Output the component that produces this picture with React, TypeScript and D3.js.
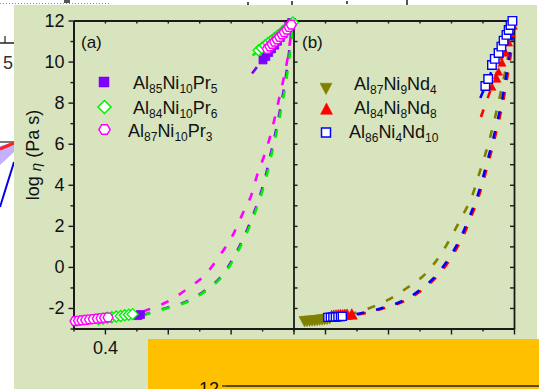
import React, { useEffect, useRef } from "react";
import * as d3 from "d3";

const W = 539;
const H = 389;
const FONT = "'Liberation Sans', Arial, Helvetica, sans-serif";

// Axis ticks
const yMajor = [-2, 0, 2, 4, 6, 8, 10, 12];
const yMinor = [-3, -1, 1, 3, 5, 7, 9, 11];
const yAll = [-3, -2, -1, 0, 1, 2, 3, 4, 5, 6, 7, 8, 9, 10, 11, 12];
const xMajor = [0.4, 0.6, 0.8, 1.0];
const xMinor = [0.3, 0.5, 0.7, 0.9];
const xAll = [0.3, 0.4, 0.5, 0.6, 0.7, 0.8, 0.9, 1.0];

// Panel (a): Al-Ni-Pr, VFT fits [Tg*/T, log eta]
const fitPrPink: [number, number][] = [
  [0.52, -2.18], [0.534, -2.1], [0.597, -1.71], [0.67, -0.98], [0.718, -0.4],
  [0.766, 0.57], [0.807, 1.55], [0.839, 2.62], [0.868, 3.59], [0.884, 4.46],
  [0.905, 5.34], [0.924, 6.26], [0.94, 7.23], [0.953, 8.11], [0.966, 8.98],
  [0.979, 9.96], [0.988, 10.88], [0.998, 11.9], [1.0, 12.1],
];
const fitPrGreen: [number, number][] = [
  [0.52, -2.38], [0.534, -2.3], [0.601, -2.0], [0.661, -1.71], [0.724, -1.13],
  [0.782, -0.3], [0.82, 0.67], [0.851, 1.64], [0.877, 2.62], [0.899, 3.59],
  [0.915, 4.46], [0.928, 5.34], [0.942, 6.26], [0.955, 7.23], [0.966, 8.11],
  [0.976, 8.98], [0.985, 9.96], [0.992, 10.88], [0.999, 11.9], [1.0, 12.1],
];
const fitPrPurple: [number, number][] = [
  [0.52, -2.36], [0.532, -2.29], [0.598, -1.99], [0.658, -1.7], [0.721, -1.12],
  [0.779, -0.29], [0.817, 0.68], [0.848, 1.65], [0.874, 2.63], [0.896, 3.6],
  [0.912, 4.47], [0.925, 5.35], [0.939, 6.27], [0.952, 7.24], [0.963, 8.12],
  [0.973, 8.99], [0.982, 9.97], [0.989, 10.89], [0.996, 11.91], [1.0, 12.3],
];
// straight fits through the data near Tg
const lineNearTgPurple: [number, number][] = [[0.868, 9.42], [1.0, 12.05]];
const lineNearTgGreen: [number, number][] = [[0.87, 10.3], [1.0, 11.95]];

// Panel (a) measured data
const prSquaresHigh: [number, number][] = [[0.505, -2.37], [0.513, -2.32]];
const prSquaresLow: [number, number][] = [
  [0.903, 10.08], [0.912, 10.25], [0.921, 10.44], [0.93, 10.62], [0.94, 10.8],
  [0.949, 10.99], [0.958, 11.17], [0.967, 11.36], [0.976, 11.55], [0.985, 11.72],
  [0.994, 11.9],
];
const prDiamondsHigh: [number, number][] = [
  [0.38, -2.55], [0.394, -2.52], [0.408, -2.48], [0.422, -2.45], [0.436, -2.42],
  [0.45, -2.39], [0.463, -2.36], [0.476, -2.33], [0.488, -2.3],
];
const prDiamondsLow: [number, number][] = [
  [0.889, 10.55], [0.899, 10.66], [0.909, 10.78], [0.919, 10.9], [0.929, 11.02],
  [0.939, 11.14], [0.949, 11.26], [0.959, 11.38], [0.969, 11.5], [0.979, 11.62],
  [0.989, 11.76], [0.998, 11.9],
];
const prHexHigh: [number, number][] = [
  [0.305, -2.64], [0.316, -2.62], [0.327, -2.6], [0.339, -2.58], [0.351, -2.56],
  [0.363, -2.54], [0.376, -2.52], [0.388, -2.5], [0.399, -2.48], [0.41, -2.46],
];
const prHexLow: [number, number][] = [
  [0.917, 10.62], [0.925, 10.74], [0.932, 10.86], [0.94, 10.97], [0.948, 11.08],
  [0.956, 11.2], [0.964, 11.32], [0.971, 11.43], [0.979, 11.55], [0.986, 11.68],
  [0.993, 11.8],
];

// Panel (b): Al-Ni-Nd, VFT fits
const fitNdOlive: [number, number][] = [
  [0.475, -2.34], [0.485, -2.29], [0.542, -2.0], [0.6, -1.61], [0.66, -1.03],
  [0.724, -0.25], [0.772, 0.72], [0.807, 1.65], [0.839, 2.57], [0.868, 3.49],
  [0.887, 4.42], [0.906, 5.34], [0.924, 6.3], [0.94, 7.3], [0.955, 8.3],
  [0.969, 9.3], [0.982, 10.3], [0.993, 11.3], [1.0, 12.0],
];
const fitNdBlue: [number, number][] = [
  [0.5, -2.3], [0.517, -2.25], [0.581, -2.0], [0.638, -1.71], [0.702, -1.12],
  [0.759, -0.3], [0.804, 0.68], [0.836, 1.6], [0.861, 2.53], [0.884, 3.45],
  [0.902, 4.38], [0.919, 5.35], [0.935, 6.3], [0.949, 7.2], [0.962, 8.13],
  [0.973, 9.1], [0.982, 9.98], [0.991, 10.9], [0.999, 11.9], [1.0, 12.0],
];
const fitNdRed: [number, number][] = [
  [0.505, -2.32], [0.522, -2.27], [0.586, -2.02], [0.643, -1.73], [0.707, -1.14],
  [0.764, -0.32], [0.809, 0.66], [0.841, 1.58], [0.866, 2.51], [0.888, 3.43],
  [0.906, 4.36], [0.923, 5.33], [0.939, 6.28], [0.953, 7.18], [0.966, 8.1],
  [0.977, 9.07], [0.986, 9.95], [0.994, 10.85], [1.0, 11.7],
];
const lineNearTgBlue: [number, number][] = [[0.893, 8.22], [1.0, 12.1]];
const lineNearTgRed: [number, number][] = [[0.895, 7.3], [1.0, 11.8]];

// Panel (b) measured data
const ndOliveHigh: [number, number][] = [
  [0.335, -2.63], [0.343, -2.62], [0.351, -2.61], [0.359, -2.6], [0.367, -2.59],
  [0.375, -2.58], [0.383, -2.56], [0.391, -2.55], [0.399, -2.53], [0.407, -2.51],
  [0.415, -2.49],
];
const ndRedHigh: [number, number][] = [
  [0.421, -2.4], [0.428, -2.39], [0.435, -2.38], [0.442, -2.37], [0.449, -2.36],
  [0.456, -2.36], [0.463, -2.35], [0.47, -2.34], [0.485, -2.33],
];
const ndRedLow: [number, number][] = [
  [0.93, 8.76], [0.946, 9.15], [0.951, 9.49], [0.962, 9.93], [0.973, 10.42],
  [0.983, 10.91], [0.991, 11.35], [0.998, 11.73],
];
const ndBlueHigh: [number, number][] = [
  [0.409, -2.46], [0.417, -2.45], [0.425, -2.44], [0.433, -2.44], [0.441, -2.43],
  [0.449, -2.42], [0.455, -2.41],
];
const ndBlueLow: [number, number][] = [
  [0.909, 8.81], [0.918, 9.15], [0.93, 9.83], [0.939, 10.13], [0.951, 10.42],
  [0.96, 10.73], [0.967, 11.02], [0.976, 11.3], [0.983, 11.54], [0.989, 11.78],
  [0.995, 11.98],
];

const legendA = ["Al85Ni10Pr5", "Al84Ni10Pr6", "Al87Ni10Pr3"];
const legendB = ["Al87Ni9Nd4", "Al84Ni8Nd8", "Al86Ni4Nd10"];

const C = {
  purple: "#7F00FF",
  green: "#00F000",
  magenta: "#FF00FF",
  olive: "#808000",
  red: "#FF0000",
  blue: "#0000FF",
  bg: "#D7E4BD",
  orange: "#FFC000",
  axis: "#1a1a1a",
};

// marker path builders
const sqPath = (s: number) => `M${-s / 2},${-s / 2}h${s}v${s}h${-s}Z`;
const diaPath = (r: number) => `M0,${-r}L${r},0L0,${r}L${-r},0Z`;
const hexPath = (r: number) => {
  const pts = d3.range(6).map((i) => {
    const a = (Math.PI / 3) * i;
    return [r * Math.cos(a), r * Math.sin(a)];
  });
  return "M" + pts.map((p) => p.join(",")).join("L") + "Z";
};
const triUp = (s: number) => `M0,${-s * 0.55}L${s / 2},${s * 0.4}L${-s / 2},${s * 0.4}Z`;
const triDown = (s: number) => `M0,${s * 0.55}L${s / 2},${-s * 0.4}L${-s / 2},${-s * 0.4}Z`;

export default function App() {
  const ref = useRef<SVGSVGElement>(null);

  useEffect(() => {
    document.body.style.margin = "0";
    const svg = d3.select(ref.current!);
    svg.selectAll("*").remove();

    const y = d3.scaleLinear().domain([-3, 12]).range([328.5, 20.5]);
    const xa = d3.scaleLinear().domain([0.3, 1.0]).range([73.5, 293.5]);
    const xb = d3.scaleLinear().domain([0.3, 1.0]).range([293.5, 514]);

    svg.append("rect").attr("width", W).attr("height", H).attr("fill", "#fff");

    // neighbouring figure fragment on the left edge
    const frag = svg.append("g");
    frag.append("line").attr("x1", 0).attr("x2", 110).attr("y1", 3.5).attr("y2", 3.5)
      .attr("stroke", "#8a8a8a").attr("stroke-dasharray", "1,2");
    frag.append("line").attr("x1", 0).attr("x2", 14).attr("y1", 43).attr("y2", 43)
      .attr("stroke", "#222").attr("stroke-width", 1.5);
    frag.append("line").attr("x1", 5).attr("x2", 5).attr("y1", 36).attr("y2", 43)
      .attr("stroke", "#222").attr("stroke-width", 1.2);
    frag.append("text").attr("x", 13).attr("y", 69).attr("text-anchor", "end")
      .attr("font-family", FONT).attr("font-size", 18).attr("fill", "#333").text("5");
    frag.append("line").attr("x1", 0).attr("x2", 14).attr("y1", 142).attr("y2", 142)
      .attr("stroke", "#222").attr("stroke-width", 1.2);
    frag.append("path").attr("d", "M0,146L14,142L14,152L0,165Z").attr("fill", "#b49cff").attr("opacity", 0.8);
    frag.append("line").attr("x1", 0).attr("x2", 14).attr("y1", 149).attr("y2", 143)
      .attr("stroke", "#ff2020").attr("stroke-width", 3);
    frag.append("line").attr("x1", 0).attr("x2", 14).attr("y1", 207).attr("y2", 162)
      .attr("stroke", "#0000ee").attr("stroke-width", 2);

    svg.append("rect").attr("x", 14).attr("y", 5).attr("width", 523).attr("height", H - 5).attr("fill", C.bg);

    // clip regions for fitted curves
    const defs = svg.append("defs");
    defs.append("clipPath").attr("id", "clipA").append("rect")
      .attr("x", 73.5).attr("y", 20.5).attr("width", 220).attr("height", 308);
    defs.append("clipPath").attr("id", "clipB").append("rect")
      .attr("x", 293.5).attr("y", 20.5).attr("width", 220.5).attr("height", 308);

    const drawCurve = (g: any, xs: any, data: [number, number][], color: string, dash = "8,12") => {
      const line = d3.line<[number, number]>().x((d) => xs(d[0])).y((d) => y(d[1])).curve(d3.curveMonotoneX);
      g.append("path").attr("d", line(data)).attr("fill", "none").attr("stroke", color)
        .attr("stroke-width", 2.6).attr("stroke-dasharray", dash);
    };

    const ga = svg.append("g").attr("clip-path", "url(#clipA)");
    drawCurve(ga, xa, fitPrPurple, C.purple);
    drawCurve(ga, xa, fitPrGreen, C.green);
    drawCurve(ga, xa, fitPrPink, C.magenta);
    drawCurve(ga, xa, lineNearTgPurple, C.purple);
    drawCurve(ga, xa, lineNearTgGreen, C.green);

    const gb = svg.append("g").attr("clip-path", "url(#clipB)");
    drawCurve(gb, xb, fitNdOlive, C.olive);
    drawCurve(gb, xb, fitNdRed, C.red);
    drawCurve(gb, xb, fitNdBlue, C.blue);
    drawCurve(gb, xb, lineNearTgRed, C.red);
    drawCurve(gb, xb, lineNearTgBlue, C.blue);

    // axes
    const styleAxis = (g: any) => {
      g.selectAll("path.domain").attr("stroke", C.axis).attr("stroke-width", 1.8);
      g.selectAll(".tick line").attr("stroke", C.axis).attr("stroke-width", 1.4);
      g.selectAll(".tick text").attr("font-family", FONT).attr("font-size", 18).attr("fill", "#111");
      g.attr("font-family", FONT);
    };
    const noLabel = () => "";

    // panel (a) left axis
    styleAxis(svg.append("g").attr("transform", "translate(73.5,0)")
      .call(d3.axisLeft(y).tickValues(yMinor).tickSize(3).tickSizeOuter(0).tickFormat(noLabel)));
    styleAxis(svg.append("g").attr("transform", "translate(73.5,0)")
      .call(d3.axisLeft(y).tickValues(yMajor).tickSize(5).tickPadding(4).tickSizeOuter(0)
        .tickFormat((d: any) => String(d))));

    // bottom axes
    for (const xs of [xa, xb]) {
      styleAxis(svg.append("g").attr("transform", "translate(0,328.5)")
        .call(d3.axisBottom(xs).tickValues(xMinor).tickSize(3).tickSizeOuter(0).tickFormat(noLabel)));
      styleAxis(svg.append("g").attr("transform", "translate(0,328.5)")
        .call(d3.axisBottom(xs).tickValues(xMajor).tickSize(6).tickPadding(7).tickSizeOuter(0)
          .tickFormat(d3.format(".1f") as any)));
      // top axis, ticks pointing inward
      styleAxis(svg.append("g").attr("transform", "translate(0,20.5)")
        .call(d3.axisBottom(xs).tickValues(xAll).tickSize(3).tickSizeOuter(0).tickFormat(noLabel)));
    }

    // panel (b) left and right frame axes, inward ticks
    styleAxis(svg.append("g").attr("transform", "translate(293.5,0)")
      .call(d3.axisRight(y).tickValues(yAll).tickSize(4).tickSizeOuter(0).tickFormat(noLabel)));
    styleAxis(svg.append("g").attr("transform", "translate(514,0)")
      .call(d3.axisLeft(y).tickValues(yAll).tickSize(4).tickSizeOuter(0).tickFormat(noLabel)));

    // markers
    const marks = (xs: any, data: [number, number][], d: string, fill: string, stroke: string, sw = 1.4) => {
      svg.append("g").selectAll("path").data(data).join("path")
        .attr("transform", (p: [number, number]) => `translate(${xs(p[0])},${y(p[1])})`)
        .attr("d", d).attr("fill", fill).attr("stroke", stroke).attr("stroke-width", sw);
    };

    marks(xa, prSquaresHigh, sqPath(8), C.purple, C.purple, 0.8);
    marks(xa, prSquaresLow, sqPath(8), C.purple, C.purple, 0.8);
    marks(xa, prDiamondsHigh, diaPath(5.5), "#fff", C.green);
    marks(xa, prDiamondsLow, diaPath(5.5), "#fff", C.green);
    marks(xa, prHexHigh, hexPath(5), "#fff", C.magenta);
    marks(xa, prHexLow, hexPath(5), "#fff", C.magenta);

    marks(xb, ndOliveHigh, triDown(11), C.olive, C.olive, 0.6);
    marks(xb, ndRedHigh, triUp(11), C.red, C.red, 0.6);
    marks(xb, ndRedLow, triUp(8), C.red, C.red, 0.6);
    marks(xb, ndBlueHigh, sqPath(8), "#fff", C.blue, 1.4);
    marks(xb, ndBlueLow, sqPath(8.5), "#fff", C.blue, 1.4);

    // legends
    const subText = (x: number, yb: number, label: string) => {
      const t = svg.append("text").attr("x", x).attr("y", yb).attr("font-family", FONT)
        .attr("font-size", 18).attr("fill", "#111");
      const parts = label.split(/(\d+)/).filter((s) => s.length);
      let down = false;
      parts.forEach((p) => {
        const isNum = /^\d+$/.test(p);
        const ts = t.append("tspan").text(p);
        if (isNum) {
          ts.attr("font-size", 12).attr("dy", down ? 0 : 4);
          down = true;
        } else {
          ts.attr("dy", down ? -4 : 0);
          down = false;
        }
      });
    };

    const legendMark = (cx: number, cy: number, d: string, fill: string, stroke: string, sw: number) => {
      svg.append("path").attr("transform", `translate(${cx},${cy})`).attr("d", d)
        .attr("fill", fill).attr("stroke", stroke).attr("stroke-width", sw);
    };

    legendMark(104, 82, sqPath(10), C.purple, C.purple, 0.5);
    legendMark(104.5, 107, diaPath(6.5), "#fff", C.green, 1.5);
    legendMark(104.5, 129.5, hexPath(5.6), "#fff", C.magenta, 1.5);
    subText(133, 89, legendA[0]);
    subText(133, 114, legendA[1]);
    subText(128, 137, legendA[2]);

    legendMark(326, 88, triDown(12), C.olive, C.olive, 0.5);
    legendMark(326.5, 109.5, triUp(12), C.red, C.red, 0.5);
    legendMark(326, 132.5, sqPath(9), "#fff", C.blue, 1.5);
    subText(354, 90, legendB[0]);
    subText(354, 114, legendB[1]);
    subText(349, 138, legendB[2]);

    // panel tags
    svg.append("text").attr("x", 81).attr("y", 48).attr("font-family", FONT).attr("font-size", 17)
      .attr("fill", "#111").text("(a)");
    svg.append("text").attr("x", 302).attr("y", 48).attr("font-family", FONT).attr("font-size", 17)
      .attr("fill", "#111").text("(b)");

    // y axis title
    const yt = svg.append("text").attr("transform", "translate(39,155) rotate(-90)")
      .attr("text-anchor", "middle").attr("font-family", FONT).attr("font-size", 18).attr("fill", "#111");
    yt.append("tspan").text("log ");
    yt.append("tspan").attr("font-style", "italic").attr("font-size", 15).attr("dy", 2).text("η");
    yt.append("tspan").attr("dy", -2).text(" (Pa s)");

    // overlapping panel below
    svg.append("rect").attr("x", 148).attr("y", 339).attr("width", W - 148).attr("height", H - 339)
      .attr("fill", C.orange);
    svg.append("line").attr("x1", 226).attr("x2", W).attr("y1", 386).attr("y2", 386)
      .attr("stroke", "#222").attr("stroke-width", 1.5);
    svg.append("line").attr("x1", 222).attr("x2", 226).attr("y1", 386).attr("y2", 386)
      .attr("stroke", "#222").attr("stroke-width", 1.2);
    svg.append("text").attr("x", 219).attr("y", 395).attr("text-anchor", "end")
      .attr("font-family", FONT).attr("font-size", 18).attr("fill", "#111").text("12");

    // small marks along the top edge
    const dots: [number, number, number, number][] = [[64, 0, 6, 3], [247, 2, 2, 3], [291, 1, 2, 4], [346, 1, 2, 3], [406, 0, 2, 5]];
    svg.append("g").selectAll("rect").data(dots).join("rect")
      .attr("x", (d) => d[0]).attr("y", (d) => d[1]).attr("width", (d) => d[2]).attr("height", (d) => d[3])
      .attr("fill", "#555");
  }, []);

  return <svg ref={ref} width={W} height={H} style={{ display: "block" }} />;
}
